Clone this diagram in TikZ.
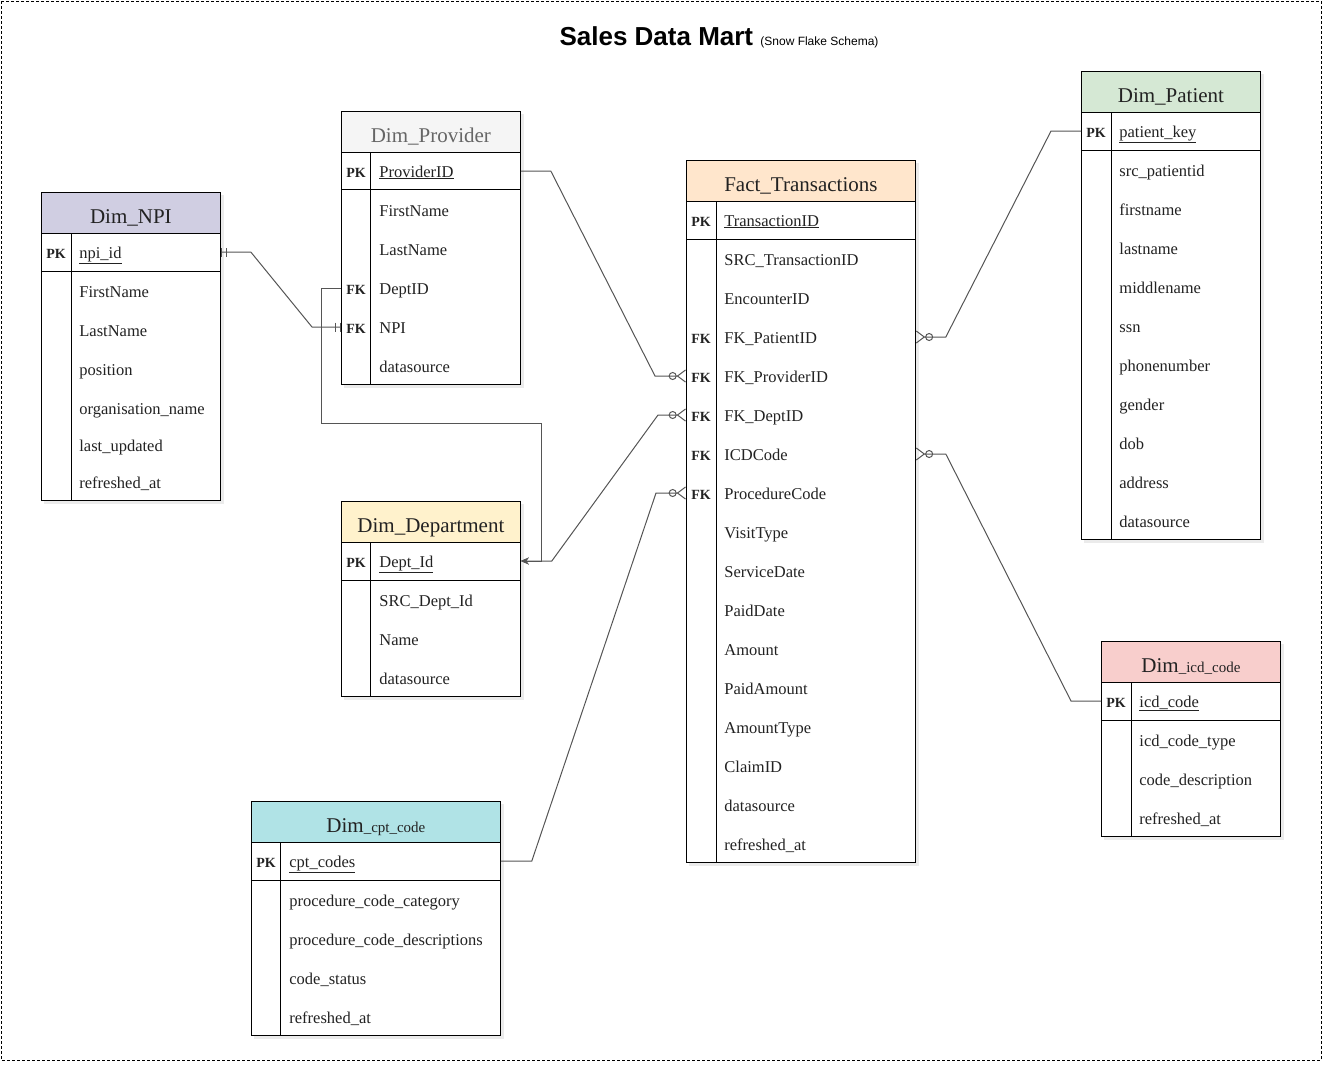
\documentclass[tikz,border=0pt]{standalone}
\usepackage{fontspec}
\setmainfont{Liberation Serif}
\newfontfamily\titlefont{Liberation Sans}
\usetikzlibrary{arrows.meta, positioning, calc}
\definecolor{npiFill}{HTML}{D0CEE2}
\definecolor{provFill}{HTML}{F5F5F5}
\definecolor{factFill}{HTML}{FFE6CC}
\definecolor{patFill}{HTML}{D5E8D4}
\definecolor{deptFill}{HTML}{FFF2CC}
\definecolor{cptFill}{HTML}{B0E3E6}
\definecolor{icdFill}{HTML}{F8CECC}
\definecolor{linkGray}{HTML}{555555}
\definecolor{textDark}{HTML}{222222}
\tikzset{
  hdr/.style={draw, anchor=north west, minimum height=41, inner sep=0,
              text height=21, text depth=0, text=textDark, font=\fontsize{21}{24}\selectfont},
  keyTxt/.style={inner sep=0, text height=12, text depth=0, text=textDark,
                 font=\bfseries\fontsize{14}{16}\selectfont},
  fld/.style={anchor=west, inner sep=0, text height=12, text depth=0, text=textDark,
              font=\fontsize{16.5}{18}\selectfont},
  tblBox/.style={draw, fill=white},
  tblShadow/.style={fill=black!8},
  conn/.style={draw=linkGray, line width=1pt},
  crow/.tip={Circle[open,length=8pt,width=8pt,line width=1pt] Straight Barb[reversed,length=8pt,width=12pt,line width=1pt]},
  oneBar/.tip={Bar[width=9pt,sep=4pt,line width=1pt] Bar[width=9pt,line width=1pt]},
}

\begin{document}
\begin{tikzpicture}[x=1pt, y=-1pt, line width=0.8pt]
  \useasboundingbox (0,0) rectangle (1332,1072);
  \draw[line width=0.8pt, dash pattern=on 3pt off 2pt] (1,1) rectangle (1321,1060);

  % title
  \node[inner sep=0] (title) at (719,37)
    {\titlefont\bfseries\fontsize{26}{30}\selectfont Sales Data Mart
     \mdseries\fontsize{12}{14}\selectfont (Snow Flake Schema)};

  % Dim_NPI
  \fill[tblShadow] (44,195) rectangle (224,504);
  \draw[tblBox] (41,233) rectangle (220,271);
  \draw[tblBox] (41,271) rectangle (220,500);
  \draw (71,233) -- (71,500);
  \node[hdr, fill=npiFill, minimum width=179] (npi) at (41,192) {Dim\_NPI};
  \node[keyTxt] at (56,252) {PK};
  \node[fld] (npi-pk) at (79,252) {\underline{npi\_id}};
  \foreach \f/\y [count=\i] in {FirstName/291, LastName/330, position/369,
      organisation\_name/408, last\_updated/445, refreshed\_at/482}
    \node[fld] (npi-\i) at (79,\y) {\f};

  % Dim_Provider
  \fill[tblShadow] (344,114) rectangle (524,388);
  \draw[tblBox] (341,151) rectangle (520,189);
  \draw[tblBox] (341,189) rectangle (520,384);
  \draw (370,151) -- (370,384);
  \node[hdr, fill=provFill, minimum width=179, text=black!60] (prov) at (341,111) {Dim\_Provider};
  \node[keyTxt] at (356,171) {PK};
  \node[fld] (prov-pk) at (379,171) {\underline{ProviderID}};
  \foreach \f [count=\i] in {FirstName, LastName, DeptID, NPI, datasource}
    \node[fld] (prov-\i) at (379,171+39*\i) {\f};
  \node[keyTxt] at (356,288) {FK};
  \node[keyTxt] at (356,327) {FK};

  % Fact_Transactions
  \fill[tblShadow] (689,163) rectangle (919,866);
  \draw[tblBox] (686,200) rectangle (915,239);
  \draw[tblBox] (686,239) rectangle (915,862);
  \draw (716,200) -- (716,862);
  \node[hdr, fill=factFill, minimum width=229] (fact) at (686,160) {Fact\_Transactions};
  \node[keyTxt] at (701,220) {PK};
  \node[fld] (fact-pk) at (724,220) {\underline{TransactionID}};
  \foreach \f [count=\i] in {SRC\_TransactionID, EncounterID, FK\_PatientID, FK\_ProviderID,
      FK\_DeptID, ICDCode, ProcedureCode, VisitType, ServiceDate, PaidDate, Amount,
      PaidAmount, AmountType, ClaimID, datasource, refreshed\_at}
    \node[fld] (fact-\i) at (724,220+39*\i) {\f};
  \foreach \i in {3,...,7}
    \node[keyTxt] at (701,220+39*\i) {FK};

  % Dim_Patient
  \fill[tblShadow] (1084,74) rectangle (1264,543);
  \draw[tblBox] (1081,111) rectangle (1260,150);
  \draw[tblBox] (1081,150) rectangle (1260,539);
  \draw (1111,111) -- (1111,539);
  \node[hdr, fill=patFill, minimum width=179] (pat) at (1081,71) {Dim\_Patient};
  \node[keyTxt] at (1096,131) {PK};
  \node[fld] (pat-pk) at (1119,131) {\underline{patient\_key}};
  \foreach \f [count=\i] in {src\_patientid, firstname, lastname, middlename, ssn,
      phonenumber, gender, dob, address, datasource}
    \node[fld] (pat-\i) at (1119,131+39*\i) {\f};

  % Dim_Department
  \fill[tblShadow] (344,504) rectangle (524,700);
  \draw[tblBox] (341,541) rectangle (520,580);
  \draw[tblBox] (341,580) rectangle (520,696);
  \draw (370,541) -- (370,696);
  \node[hdr, fill=deptFill, minimum width=179] (dept) at (341,501) {Dim\_Department};
  \node[keyTxt] at (356,561) {PK};
  \node[fld] (dept-pk) at (379,561) {\underline{Dept\_Id}};
  \foreach \f [count=\i] in {SRC\_Dept\_Id, Name, datasource}
    \node[fld] (dept-\i) at (379,561+39*\i) {\f};

  % Dim_cpt_code
  \fill[tblShadow] (254,804) rectangle (504,1039);
  \draw[tblBox] (251,841) rectangle (500,880);
  \draw[tblBox] (251,880) rectangle (500,1035);
  \draw (280,841) -- (280,1035);
  \node[hdr, fill=cptFill, minimum width=249] (cpt) at (251,801)
    {Dim{\fontsize{15}{17}\selectfont\_cpt\_code}};
  \node[keyTxt] at (266,861) {PK};
  \node[fld] (cpt-pk) at (289,861) {\underline{cpt\_codes}};
  \foreach \f [count=\i] in {procedure\_code\_category, procedure\_code\_descriptions,
      code\_status, refreshed\_at}
    \node[fld] (cpt-\i) at (289,861+39*\i) {\f};

  % Dim_icd_code
  \fill[tblShadow] (1104,644) rectangle (1284,840);
  \draw[tblBox] (1101,681) rectangle (1280,720);
  \draw[tblBox] (1101,720) rectangle (1280,836);
  \draw (1131,681) -- (1131,836);
  \node[hdr, fill=icdFill, minimum width=179] (icd) at (1101,641)
    {Dim{\fontsize{15}{17}\selectfont\_icd\_code}};
  \node[keyTxt] at (1116,701) {PK};
  \node[fld] (icd-pk) at (1139,701) {\underline{icd\_code}};
  \foreach \f [count=\i] in {icd\_code\_type, code\_description, refreshed\_at}
    \node[fld] (icd-\i) at (1139,701+39*\i) {\f};

  % relations
  \draw[conn, oneBar-oneBar] (npi.east |- npi-pk) -- ++(30,0)
    -- ($(prov.west |- prov-4)+(-29,0)$) -- (prov.west |- prov-4);
  \draw[conn, -{Stealth[length=8pt,width=7pt]}] (prov.west |- prov-3) -- ++(-20,0) -- ++(0,135)
    -| ($(dept.east |- dept-pk)+(21,0)$) -- (dept.east |- dept-pk);
  \draw[conn, -crow] (prov.east |- prov-pk) -- ++(30,0)
    -- ($(fact.west |- fact-4)+(-31,0)$) -- (fact.west |- fact-4);
  \draw[conn, crow-{Stealth[length=8pt,width=7pt]}] (fact.west |- fact-5) -- ++(-28,0)
    -- ($(dept.east |- dept-pk)+(31,0)$) -- (dept.east |- dept-pk);
  \draw[conn, crow-] (fact.west |- fact-7) -- ++(-30,0)
    -- ($(cpt.east |- cpt-pk)+(31,0)$) -- (cpt.east |- cpt-pk);
  \draw[conn, crow-] (fact.east |- fact-3) -- ++(30,0)
    -- ($(pat.west |- pat-pk)+(-30,0)$) -- (pat.west |- pat-pk);
  \draw[conn, crow-] (fact.east |- fact-6) -- ++(30,0)
    -- ($(icd.west |- icd-pk)+(-30,0)$) -- (icd.west |- icd-pk);
\end{tikzpicture}
\end{document}
